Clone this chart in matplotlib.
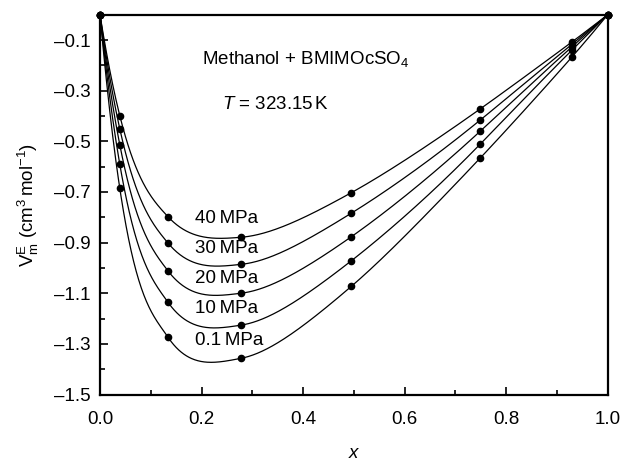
import numpy as np
import matplotlib
matplotlib.use("Agg")
import matplotlib.pyplot as plt
from matplotlib.ticker import MultipleLocator, FixedLocator

plt.rcParams['font.family'] = ['Liberation Sans', 'DejaVu Sans']
plt.rcParams['mathtext.fontset'] = 'custom'
plt.rcParams['mathtext.rm'] = 'Liberation Sans'
plt.rcParams['mathtext.it'] = 'Liberation Sans:italic'
plt.rcParams['mathtext.bf'] = 'Liberation Sans:bold'

# Mole fraction of methanol (measured points)
x_pts = [0.0, 0.039, 0.134, 0.278, 0.495, 0.749, 0.930, 1.0]

# Excess molar volume (cm3 mol-1) at each pressure
pressures = ["40 MPa", "30 MPa", "20 MPa", "10 MPa", "0.1 MPa"]
v_40 = [0.0, -0.399, -0.798, -0.879, -0.703, -0.372, -0.107, 0.0]
v_30 = [0.0, -0.451, -0.902, -0.986, -0.784, -0.416, -0.116, 0.0]
v_20 = [0.0, -0.514, -1.012, -1.100, -0.877, -0.460, -0.126, 0.0]
v_10 = [0.0, -0.591, -1.136, -1.226, -0.972, -0.511, -0.139, 0.0]
v_01 = [0.0, -0.686, -1.274, -1.357, -1.073, -0.566, -0.166, 0.0]
series = [v_40, v_30, v_20, v_10, v_01]

# label positions (data coords)
label_x = [0.187, 0.187, 0.187, 0.187, 0.187]
label_y = [-0.805, -0.924, -1.040, -1.162, -1.288]

FS = 13.5


def pchip(xk, yk, xe):
    """Monotone piecewise cubic Hermite interpolation, linear extrapolation."""
    xk = np.asarray(xk, float)
    yk = np.asarray(yk, float)
    n = len(xk)
    h = np.diff(xk)
    d = np.diff(yk) / h
    m = np.zeros(n)
    for k in range(1, n - 1):
        if d[k - 1] * d[k] <= 0:
            m[k] = 0.0
        else:
            w1 = 2 * h[k] + h[k - 1]
            w2 = h[k] + 2 * h[k - 1]
            m[k] = (w1 + w2) / (w1 / d[k - 1] + w2 / d[k])

    def end(h0, h1, d0, d1):
        s = ((2 * h0 + h1) * d0 - h0 * d1) / (h0 + h1)
        if np.sign(s) != np.sign(d0):
            s = 0.0
        elif np.sign(d0) != np.sign(d1) and abs(s) > abs(3 * d0):
            s = 3 * d0
        return s

    m[0] = end(h[0], h[1], d[0], d[1])
    m[-1] = end(h[-1], h[-2], d[-1], d[-2])
    out = np.empty_like(xe)
    for j, t in enumerate(xe):
        if t <= xk[0]:
            out[j] = yk[0] + m[0] * (t - xk[0])
        elif t >= xk[-1]:
            out[j] = yk[-1] + m[-1] * (t - xk[-1])
        else:
            i = int(np.clip(np.searchsorted(xk, t) - 1, 0, n - 2))
            s = (t - xk[i]) / h[i]
            h00 = 2 * s ** 3 - 3 * s ** 2 + 1
            h10 = s ** 3 - 2 * s ** 2 + s
            h01 = -2 * s ** 3 + 3 * s ** 2
            h11 = s ** 3 - s ** 2
            out[j] = (h00 * yk[i] + h10 * h[i] * m[i]
                      + h01 * yk[i + 1] + h11 * h[i] * m[i + 1])
    return out


fig = plt.figure(figsize=(6.22, 4.62), dpi=100)
ax = fig.add_axes([100/622, (462-394.5)/462, (607.7-100)/622, (394.5-14.7)/462])

xs = np.linspace(0, 1, 800)
for v in series:
    x = np.array(x_pts)
    y = np.array(v)
    inner = (x > 0) & (x < 1)
    xi, yi = x[inner], y[inner]
    q = yi / (xi * (1 - xi))
    ys = xs * (1 - xs) * pchip(xi, q, xs)
    ax.plot(xs, ys, color='black', lw=0.9, clip_on=False)
    ax.plot(x, y, 'o', color='black', ms=4.5, clip_on=False, zorder=5)

for lab, lx, ly in zip(pressures, label_x, label_y):
    ax.text(lx, ly, lab.replace(" ", "\u2009"), fontsize=FS, ha='left', va='center')

ax.text(0.2, -0.175, r'Methanol + BMIMOcSO$_4$', fontsize=FS, ha='left', va='center')
ax.text(0.24, -0.354, r'$T$ = 323.15$\,$K', fontsize=FS, ha='left', va='center')

ax.set_xlim(0, 1.0)
ax.set_ylim(-1.5, 0.0)
ax.xaxis.set_major_locator(MultipleLocator(0.2))
ax.xaxis.set_minor_locator(MultipleLocator(0.1))
ax.yaxis.set_major_locator(FixedLocator([-0.1, -0.3, -0.5, -0.7, -0.9, -1.1, -1.3, -1.5]))
ax.yaxis.set_minor_locator(FixedLocator([-0.2, -0.4, -0.6, -0.8, -1.0, -1.2, -1.4]))
ax.xaxis.set_major_formatter(matplotlib.ticker.FormatStrFormatter('%.1f'))
ax.yaxis.set_major_formatter(matplotlib.ticker.FuncFormatter(lambda v, p: ('%.1f' % v).replace('-', '\u2013')))

ax.tick_params(which='both', direction='in', top=False, right=False, labelsize=FS, width=1.2)
ax.tick_params(which='major', length=6)
ax.tick_params(which='minor', length=3.5)
ax.tick_params(axis='x', which='major', pad=12)
ax.tick_params(axis='y', which='major', pad=7)
for s in ax.spines.values():
    s.set_linewidth(1.6)

ax.set_xlabel(r'$x$', fontsize=FS, labelpad=12)
ax.set_ylabel(r'$\mathrm{V}_{\mathrm{m}}^{\mathrm{E}}$ (cm$^3\,$mol$^{-1}$)', fontsize=FS, labelpad=9)

fig.savefig('out.png', dpi=100)
